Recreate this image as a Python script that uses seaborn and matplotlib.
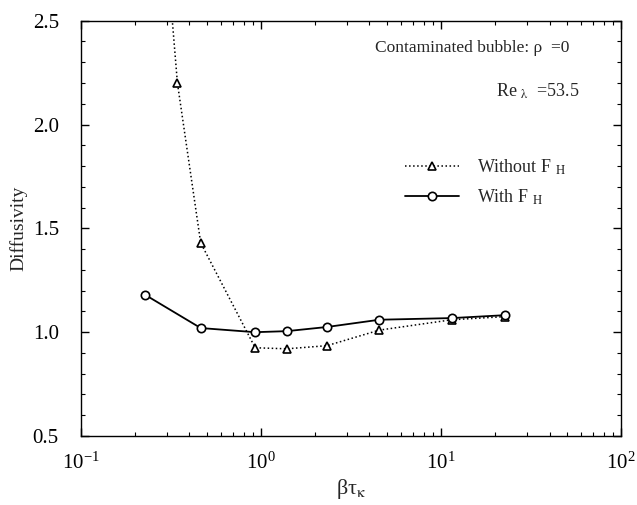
import matplotlib
matplotlib.use("Agg")
import matplotlib.pyplot as plt
import seaborn as sns
import pandas as pd
import numpy as np
from matplotlib.ticker import MultipleLocator, LogLocator, NullFormatter

# Data
x_without = [0.227, 0.343, 0.462, 0.927, 1.39, 2.32, 4.54, 11.5, 22.7]
y_without = [4.10, 2.20, 1.43, 0.925, 0.92, 0.935, 1.01, 1.06, 1.075]
x_with = [0.227, 0.462, 0.927, 1.39, 2.32, 4.54, 11.5, 22.7]
y_with = [1.18, 1.02, 1.00, 1.005, 1.025, 1.06, 1.068, 1.082]

sns.set_style("ticks")
plt.rcParams['font.family'] = ['Liberation Serif', 'DejaVu Serif']
plt.rcParams['mathtext.fontset'] = 'stix'

fig = plt.figure(figsize=(6.37, 5.05), dpi=100)
ax = fig.add_axes([0.1272, 0.1366, 0.848, 0.8224])

df_wo = pd.DataFrame({"x": x_without, "y": y_without})
df_w = pd.DataFrame({"x": x_with, "y": y_with})

sns.lineplot(data=df_wo, x="x", y="y", ax=ax, color="black", linestyle=":",
             linewidth=1.1, marker="^", markersize=6, markerfacecolor="white",
             markeredgecolor="black", markeredgewidth=1.2,
             label="Without F $_{\\mathrm{H}}$")
sns.lineplot(data=df_w, x="x", y="y", ax=ax, color="black", linestyle="-",
             linewidth=1.3, marker="o", markersize=6, markerfacecolor="white",
             markeredgecolor="black", markeredgewidth=1.2,
             label="With F $_{\\mathrm{H}}$")

ax.set_xscale("log")
ax.set_xlim(0.1, 100)
ax.set_ylim(0.5, 2.5)
ax.yaxis.set_major_locator(MultipleLocator(0.5))
ax.yaxis.set_minor_locator(MultipleLocator(0.1))
ax.xaxis.set_major_locator(LogLocator(base=10, numticks=10))
ax.xaxis.set_minor_locator(LogLocator(base=10, subs=np.arange(2, 10), numticks=20))
ax.xaxis.set_minor_formatter(NullFormatter())

ax.tick_params(which="both", direction="in", top=True, right=True, colors="black")
ax.tick_params(which="major", length=6, width=1, labelsize=15)
ax.tick_params(axis="x", which="major", pad=12)
ax.tick_params(axis="y", which="major", pad=16)
ax.tick_params(which="minor", length=3, width=0.8)
for s in ax.spines.values():
    s.set_linewidth(1.0)
    s.set_color("black")

ax.set_xlabel("βτ$_{\\mathrm{κ}}$", fontsize=16, labelpad=2)
ax.set_ylabel("Diffusivity", fontsize=14, labelpad=4)

ax.text(0.545, 0.935, "Contaminated bubble: ρ  =0", transform=ax.transAxes,
        fontsize=12.5, ha="left", va="center")
ax.text(0.768, 0.83, "Re $_{\\mathrm{λ}}$  =53.5", transform=ax.transAxes,
        fontsize=13, ha="left", va="center")

leg = ax.legend(loc="upper left", bbox_to_anchor=(0.57, 0.71), frameon=False,
                fontsize=13, handlelength=3.0, handletextpad=1.0, labelspacing=0.6)

fig.savefig("out.png", dpi=100)
